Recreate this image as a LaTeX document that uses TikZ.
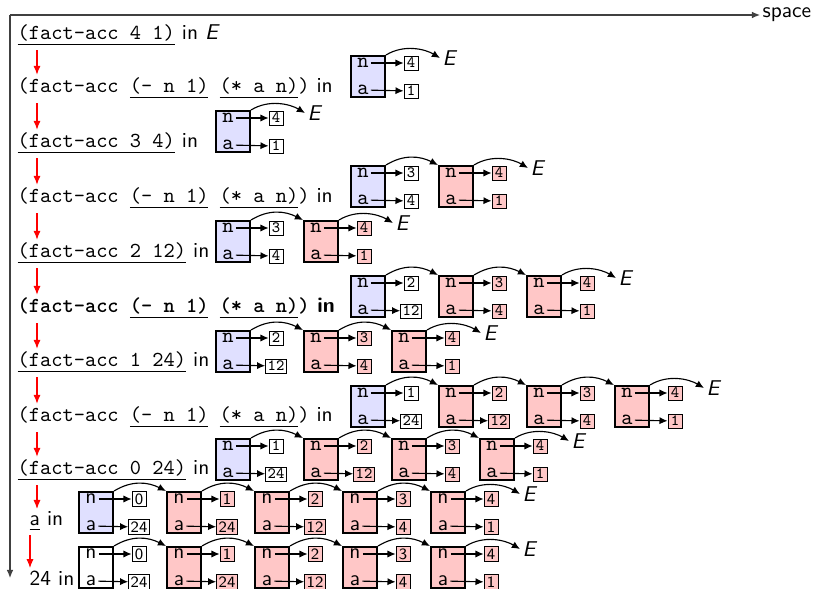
\documentclass[tikz,border=0pt]{standalone}
\usepackage{tikz}
\usetikzlibrary{arrows.meta,positioning,calc}

\colorlet{envblue}{blue!12}
\colorlet{envred}{red!22}
\colorlet{envwhite}{white}

\begin{document}
\begin{tikzpicture}[
    x=0.4444pt, y=-0.4444pt,
    every node/.style={font=\sffamily\fontsize{9.5}{11}\selectfont},
    row/.style={anchor=west, inner sep=1pt},
    frm/.style={draw, line width=0.9pt, anchor=north west, minimum width=15.1pt, minimum height=18.4pt, inner sep=0pt},
    slot/.style={inner sep=0.8pt},
    val/.style={draw, line width=0.4pt, inner sep=0.9pt, minimum width=6.2pt, minimum height=6.2pt},
    ptr/.style={-{Latex[length=3.6pt,width=3.2pt]}, line width=0.5pt},
    lnk/.style={-{Latex[length=3.6pt,width=3.2pt]}, line width=0.5pt},
    flow/.style={red, line width=0.5pt, -{Latex[length=4pt,width=3.2pt]}},
    axis/.style={black!75, line width=0.5pt, -{Latex[length=3.6pt,width=3pt]}}
]
\useasboundingbox (0,0) rectangle (815,589);

% axes
\coordinate (o) at (10,15);
\coordinate (tend) at (10,578);
\node[anchor=west, inner sep=1pt] (space) at (760,15) {space};
\draw[axis] (o) -- (space);
\draw[axis] (o) -- (tend);

% evaluation steps
\node[row] (t1) at (15,35) {\underline{\texttt{(fact-acc 4 1)}} in \textit{E}};
\node[row] (t2) at (15,88) {\texttt{(fact-acc \underline{(- n 1)} \underline{(* a n)})} in};
\node[row] (t3) at (15,143) {\underline{\texttt{(fact-acc 3 4)}} in};
\node[row] (t4) at (15,198) {\texttt{(fact-acc \underline{(- n 1)} \underline{(* a n)})} in};
\node[row] (t5) at (15,253) {\underline{\texttt{(fact-acc 2 12)}} in};
\node[row] (t6) at (15,308) {\bfseries\texttt{(fact-acc \underline{(- n 1)} \underline{(* a n)})} in};
\node[row] (t7) at (15,362) {\underline{\texttt{(fact-acc 1 24)}} in};
\node[row] (t8) at (15,417) {\texttt{(fact-acc \underline{(- n 1)} \underline{(* a n)})} in};
\node[row] (t9) at (15,470) {\underline{\texttt{(fact-acc 0 24)}} in};
\node[row] (t10) at (27,521) {\underline{a} in};
\node[row] (t11) at (27,578) {24 in};

\foreach \i/\j/\dx in {1/2/22,2/3/22,3/4/22,4/5/22,5/6/22,6/7/22,7/8/22,8/9/22,9/10/22,10/11/3} {
  \coordinate (s\i) at ($(t\i.south west)+(\dx,2)$);
  \draw[flow] (s\i) -- (s\i |- t\j.north);
}

% environments
\foreach \r/\top/\xo/\first/\fnt/\cnt/\vals in {
    2/55/350/envblue/\ttfamily/1/{4/1},
    3/110/215/envblue/\ttfamily/1/{4/1},
    4/165/350/envblue/\ttfamily/2/{3/4,4/1},
    5/220/215/envblue/\ttfamily/2/{3/4,4/1},
    6/275/350/envblue/\ttfamily/3/{2/12,3/4,4/1},
    7/330/215/envblue/\ttfamily/3/{2/12,3/4,4/1},
    8/385/350/envblue/\ttfamily/4/{1/24,2/12,3/4,4/1},
    9/438/215/envblue/\ttfamily/4/{1/24,2/12,3/4,4/1},
    10/491/78/envblue/\sffamily/5/{0/24,1/24,2/12,3/4,4/1},
    11/546/78/envwhite/\sffamily/5/{0/24,1/24,2/12,3/4,4/1}} {
  \foreach \nv/\av [count=\k from 0] in \vals {
    \ifnum\k=0 \def\fc{\first}\def\vc{envwhite}\else\def\fc{envred}\def\vc{envred}\fi
    \node[frm, fill=\fc] (f\r-\k) at (\xo+88*\k,\top) {};
    \node[slot, font=\fnt\fontsize{9.5}{10}\selectfont] (n\r-\k) at (\xo+88*\k+13,\top+8) {n};
    \node[slot, font=\fnt\fontsize{9.5}{10}\selectfont] (a\r-\k) at (\xo+88*\k+13,\top+35) {a};
    \node[val, fill=\vc, font=\fnt\fontsize{7}{8}\selectfont] (vn\r-\k) at (\xo+88*\k+61,\top+8) {\nv};
    \node[val, fill=\vc, font=\fnt\fontsize{7}{8}\selectfont] (va\r-\k) at (\xo+88*\k+61,\top+36) {\av};
    \draw[ptr] (n\r-\k) -- (vn\r-\k);
    \draw[ptr] (a\r-\k) -- (va\r-\k);
    \ifnum\k>0
      \pgfmathtruncatemacro\km{\k-1}
      \draw[lnk] (f\r-\km.north east) .. controls +(18,-11) and +(-18,-9) .. (f\r-\k.north west);
    \fi
  }
  \pgfmathtruncatemacro\last{\cnt-1}
  \node[inner sep=1pt] (E\r) at (\xo+88*\cnt+12,\top+3) {\textit{E}};
  \draw[lnk] (f\r-\last.north east) .. controls +(18,-11) and +(-15,-9) .. (E\r.west);
}
\end{tikzpicture}
\end{document}
